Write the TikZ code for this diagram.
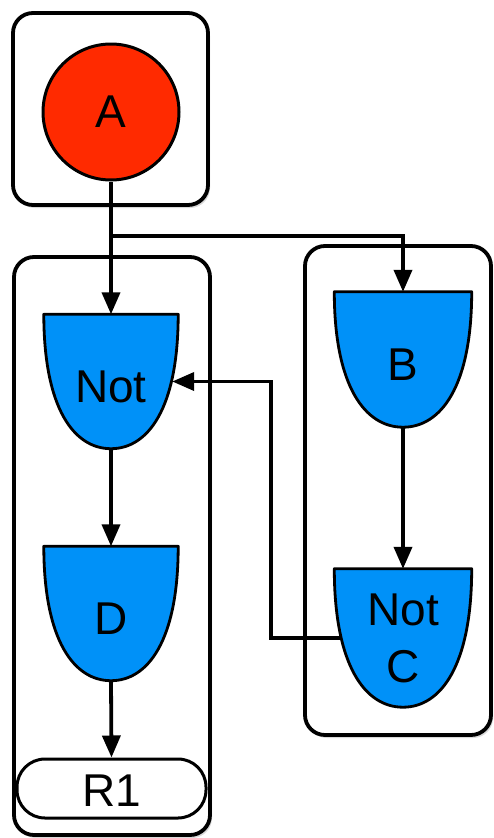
\documentclass[tikz,border=0pt]{standalone}
\usepackage{fontspec}
\setmainfont{Liberation Sans}
\usetikzlibrary{arrows.meta,calc,shadows}
\definecolor{gateblue}{RGB}{0,145,248}
\definecolor{nodered}{RGB}{255,42,0}
\pgfdeclarelayer{back}
\pgfdeclarelayer{mid}
\pgfsetlayers{back,mid,main}
\tikzset{
  container/.style={draw, line width=3.8pt, rounded corners=20pt, fill=white, inner sep=0pt,
    drop shadow={opacity=0.3, shadow xshift=2pt, shadow yshift=-3pt}},
  bigfont/.style={font=\fontsize{46}{57}\selectfont},
  gatebox/.style={minimum width=134pt, minimum height=134pt, inner sep=0pt, bigfont},
  gatetext/.style={text height=42pt, text depth=0pt},
  gateline/.style={draw, fill=gateblue, line width=2.8pt, line join=round},
  conn/.style={line width=3.8pt, -{Triangle[length=22pt,width=18pt]}},
}
\newcommand\gateshape[1]{%
  \path[gateline] (#1.north west) -- (#1.north east)
    .. controls ($(#1.north east)!0.7!(#1.south east)$) and ($(#1.south)!0.55!(#1.south east)$) .. (#1.south)
    .. controls ($(#1.south)!0.55!(#1.south west)$) and ($(#1.north west)!0.7!(#1.south west)$) .. (#1.north west) -- cycle;}
\begin{document}
\begin{tikzpicture}[x=1pt, y=-1pt]
\useasboundingbox (0,0) rectangle (493,838);
\begin{pgfonlayer}{back}
  \node[container, minimum width=195pt, minimum height=192pt] (topbox) at (110.5,109) {};
  \node[container, minimum width=196pt, minimum height=578pt] (leftbox) at (112,546) {};
  \node[container, minimum width=186pt, minimum height=489pt] (rightbox) at (398,490.5) {};
\end{pgfonlayer}
\node[circle, draw, fill=nodered, line width=3pt, minimum size=136pt, inner sep=0pt, bigfont] (A) at (111,112) {A};
\node[gatebox, gatetext] (n1) at (111,381.5) {Not};
\node[gatebox, gatetext] (D) at (111,613.5) {D};
\node[gatebox, gatetext, minimum width=137pt, minimum height=135pt] (B) at (403,359.5) {B};
\node[gatebox, minimum width=137pt, minimum height=138pt, align=center] (C) at (403,638) {Not\\C};
\node[draw, fill=white, line width=3pt, rounded corners=28pt, minimum width=189pt, minimum height=59pt, inner sep=0pt, bigfont, text height=36pt, text depth=0pt] (R1) at (111.5,788.5) {R1};
\begin{pgfonlayer}{mid}
  \gateshape{n1}
  \gateshape{D}
  \gateshape{B}
  \gateshape{C}
\end{pgfonlayer}
\coordinate (br) at (111,236);
\coordinate (turn) at (265,500);
\draw[conn] (A.south) -- (n1.north);
\draw[conn] (br) -| (B.north);
\draw[conn] (B.south) -- (C.north);
\draw[conn] ([xshift=6pt]C.west) -- ([xshift=6pt]C.west -| turn) |- ([xshift=-6pt]n1.east);
\draw[conn] (n1.south) -- (D.north);
\draw[conn] (D.south) -- (R1.north);
\end{tikzpicture}
\end{document}
